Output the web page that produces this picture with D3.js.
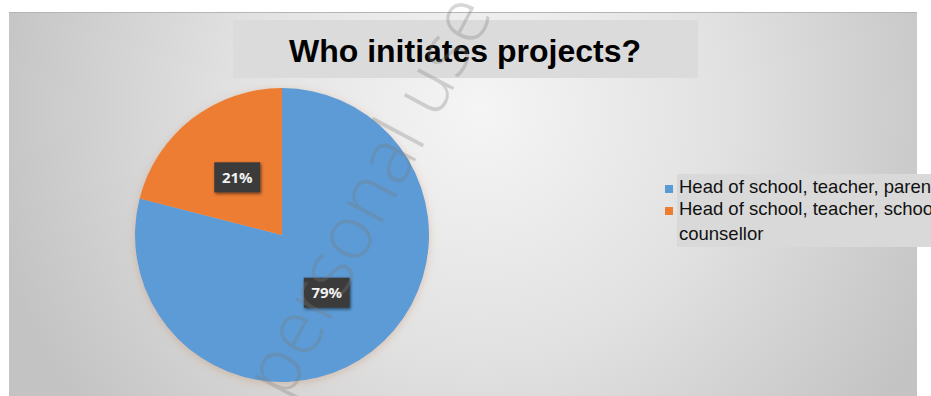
<!DOCTYPE html>
<html>
<head>
<meta charset="utf-8">
<script src="https://cdn.jsdelivr.net/npm/d3@7"></script>
<style>
  html, body { margin: 0; padding: 0; background: #fff; overflow: hidden; }
  svg { display: block; }
</style>
</head>
<body>
<svg id="chart" width="931" height="396"></svg>
<script>
// Chart data
const title = "Who initiates projects?";
const categories = ["Head of school, teacher, parents", "Head of school, teacher, school counsellor"];
const shares = [79, 21];
const colors = ["#5b9bd5", "#ed7d31"];
// Legend text as it wraps in the legend box
const legendLines = [["Head of school, teacher, parents"], ["Head of school, teacher, school", "counsellor"]];
const watermark = "personal use";

const svg = d3.select("#chart");
const W = 931, H = 396;

const defs = svg.append("defs");
const bg = defs.append("radialGradient")
  .attr("id", "bgGrad").attr("gradientUnits", "userSpaceOnUse")
  .attr("cx", 480).attr("cy", 110).attr("r", 500);
bg.append("stop").attr("offset", 0).attr("stop-color", "#f5f5f5");
bg.append("stop").attr("offset", 0.5).attr("stop-color", "#e1e1e1");
bg.append("stop").attr("offset", 1).attr("stop-color", "#c3c3c3");

const pieShadow = defs.append("filter").attr("id", "pieShadow")
  .attr("x", "-20%").attr("y", "-20%").attr("width", "140%").attr("height", "140%");
pieShadow.append("feDropShadow").attr("dx", 0).attr("dy", 2).attr("stdDeviation", 4)
  .attr("flood-color", "#c08050").attr("flood-opacity", 0.35);

const boxShadow = defs.append("filter").attr("id", "boxShadow")
  .attr("x", "-30%").attr("y", "-30%").attr("width", "160%").attr("height", "160%");
boxShadow.append("feDropShadow").attr("dx", 1).attr("dy", 1.5).attr("stdDeviation", 1.5)
  .attr("flood-color", "#000").attr("flood-opacity", 0.55);

// Chart area background
svg.append("rect").attr("x", 9).attr("y", 12).attr("width", 908).attr("height", H - 12)
  .attr("fill", "url(#bgGrad)");
svg.append("line").attr("x1", 9).attr("x2", 917).attr("y1", 12.5).attr("y2", 12.5)
  .attr("stroke", "#b5b5b5").attr("stroke-width", 1);

// Title box
svg.append("rect").attr("x", 233).attr("y", 20).attr("width", 465).attr("height", 58)
  .attr("fill", "#dbdbdb");
svg.append("text").attr("x", 465).attr("y", 62)
  .attr("text-anchor", "middle")
  .attr("font-family", "Liberation Sans, Arial, sans-serif")
  .attr("font-weight", "bold").attr("font-size", 32)
  .attr("fill", "#000").text(title);

// Pie
const cx = 282, cy = 235, r = 147;
const pie = d3.pie().sort(null).value(d => d);
const arcs = pie(shares);
const arc = d3.arc().innerRadius(0).outerRadius(r);
const labelArc = d3.arc().innerRadius(73).outerRadius(73);

const g = svg.append("g").attr("transform", `translate(${cx},${cy})`);
g.append("g").attr("filter", "url(#pieShadow)")
  .selectAll("path").data(arcs).join("path")
  .attr("d", arc)
  .attr("fill", (d, i) => colors[i]);

// Percentage labels in dark boxes
const lab = g.selectAll("g.lab").data(arcs).join("g").attr("class", "lab")
  .attr("transform", d => `translate(${labelArc.centroid(d)})`);
lab.append("rect").attr("x", -23).attr("y", -15).attr("width", 46).attr("height", 30)
  .attr("fill", "#3a3a3a").attr("filter", "url(#boxShadow)");
lab.append("text").attr("text-anchor", "middle").attr("y", 5.5)
  .attr("font-family", "Open Sans, sans-serif").attr("font-weight", "bold")
  .attr("font-size", 15).attr("fill", "#f2f2f2")
  .text((d, i) => shares[i] + "%");

// Legend
svg.append("rect").attr("x", 677).attr("y", 174).attr("width", W - 677).attr("height", 73)
  .attr("fill", "#d9d9d9");
const legendTop = [193, 215];
const leg = svg.selectAll("g.leg").data(categories).join("g").attr("class", "leg");
leg.append("rect").attr("x", 665).attr("y", (d, i) => legendTop[i] - 8)
  .attr("width", 8).attr("height", 8).attr("fill", (d, i) => colors[i]);
leg.append("text")
  .attr("font-family", "Liberation Sans, Arial, sans-serif").attr("font-size", 18.5)
  .attr("fill", "#111")
  .selectAll("tspan").data((d, i) => legendLines[i].map(t => ({ t, i }))).join("tspan")
  .attr("x", 679)
  .attr("y", (d, j) => legendTop[d.i] + j * 25)
  .text(d => d.t);

// Watermark
svg.append("text")
  .attr("transform", "translate(287,402) rotate(-62)")
  .attr("font-family", "Open Sans, sans-serif").attr("font-weight", 300)
  .attr("font-size", 76).attr("fill", "#7a7a7a").attr("fill-opacity", 0.3)
  .text(watermark);
</script>
</body>
</html>
